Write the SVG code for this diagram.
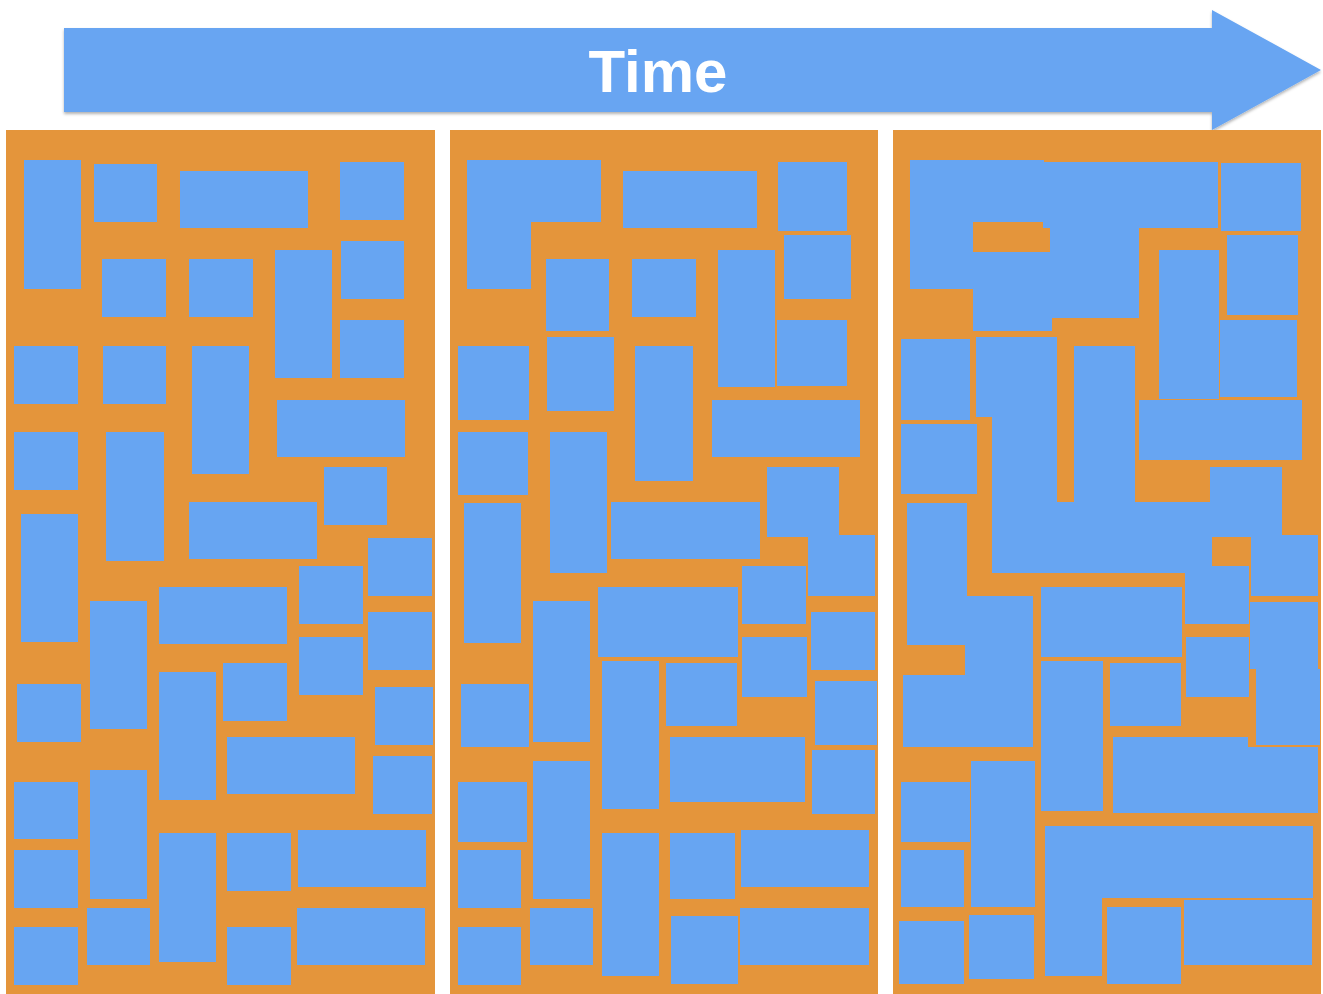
<svg xmlns="http://www.w3.org/2000/svg" width="1323" height="994" viewBox="0 0 1323 994">
<style>
.p{fill:#E4953B}
.b{fill:#67A5F2}
.t{font-family:"Liberation Sans",Arial,sans-serif;font-weight:bold;font-size:60px;fill:#FFFFFF}
</style>
<defs>
<filter id="sh" x="-5%" y="-20%" width="110%" height="140%">
<feDropShadow dx="0" dy="2" stdDeviation="1.5" flood-color="#000" flood-opacity="0.3"/>
</filter>
</defs>
<rect width="1323" height="994" fill="#FFFFFF"/>
<g id="time-arrow">
<polygon class="b" filter="url(#sh)" points="64,28 1212,28 1212,10 1321,70 1212,130 1212,112 64,112"/>
<text class="t" x="658" y="92" text-anchor="middle">Time</text>
</g>
<g id="panel1">
<rect class="p" x="6" y="130" width="429" height="864"/>
<rect class="b" x="24" y="160" width="57" height="129"/>
<rect class="b" x="94" y="164" width="63" height="58"/>
<rect class="b" x="180" y="171" width="128" height="57"/>
<rect class="b" x="340" y="162" width="64" height="58"/>
<rect class="b" x="102" y="259" width="64" height="58"/>
<rect class="b" x="189" y="259" width="64" height="58"/>
<rect class="b" x="275" y="250" width="57" height="128"/>
<rect class="b" x="341" y="241" width="63" height="58"/>
<rect class="b" x="340" y="320" width="64" height="58"/>
<rect class="b" x="14" y="346" width="64" height="58"/>
<rect class="b" x="103" y="346" width="63" height="58"/>
<rect class="b" x="192" y="346" width="57" height="128"/>
<rect class="b" x="277" y="400" width="128" height="57"/>
<rect class="b" x="14" y="432" width="64" height="58"/>
<rect class="b" x="106" y="432" width="58" height="129"/>
<rect class="b" x="189" y="502" width="128" height="57"/>
<rect class="b" x="324" y="467" width="63" height="58"/>
<rect class="b" x="21" y="514" width="57" height="128"/>
<rect class="b" x="368" y="538" width="64" height="58"/>
<rect class="b" x="90" y="601" width="57" height="128"/>
<rect class="b" x="159" y="587" width="128" height="57"/>
<rect class="b" x="299" y="566" width="64" height="58"/>
<rect class="b" x="368" y="612" width="64" height="58"/>
<rect class="b" x="299" y="637" width="64" height="58"/>
<rect class="b" x="159" y="672" width="57" height="128"/>
<rect class="b" x="223" y="663" width="64" height="58"/>
<rect class="b" x="17" y="684" width="64" height="58"/>
<rect class="b" x="375" y="687" width="58" height="58"/>
<rect class="b" x="227" y="737" width="128" height="57"/>
<rect class="b" x="373" y="756" width="59" height="58"/>
<rect class="b" x="14" y="782" width="64" height="57"/>
<rect class="b" x="90" y="770" width="57" height="129"/>
<rect class="b" x="159" y="833" width="57" height="129"/>
<rect class="b" x="227" y="833" width="64" height="58"/>
<rect class="b" x="298" y="830" width="128" height="57"/>
<rect class="b" x="14" y="850" width="64" height="58"/>
<rect class="b" x="87" y="908" width="63" height="57"/>
<rect class="b" x="14" y="927" width="64" height="58"/>
<rect class="b" x="227" y="927" width="64" height="58"/>
<rect class="b" x="297" y="908" width="128" height="57"/>
</g>
<g id="panel2">
<rect class="p" x="450" y="130" width="428" height="864"/>
<path class="b" d="M467,160 H601 V222 H531 V289 H467 Z"/>
<rect class="b" x="623" y="171" width="134" height="57"/>
<rect class="b" x="778" y="162" width="69" height="69"/>
<rect class="b" x="784" y="235" width="67" height="64"/>
<rect class="b" x="546" y="259" width="63" height="72"/>
<rect class="b" x="632" y="259" width="64" height="58"/>
<rect class="b" x="718" y="250" width="57" height="137"/>
<rect class="b" x="777" y="320" width="70" height="66"/>
<rect class="b" x="458" y="346" width="71" height="74"/>
<rect class="b" x="547" y="337" width="67" height="74"/>
<rect class="b" x="635" y="346" width="58" height="135"/>
<rect class="b" x="712" y="400" width="148" height="57"/>
<rect class="b" x="458" y="432" width="70" height="63"/>
<rect class="b" x="550" y="432" width="57" height="141"/>
<rect class="b" x="611" y="502" width="149" height="57"/>
<rect class="b" x="767" y="467" width="72" height="70"/>
<rect class="b" x="808" y="535" width="67" height="61"/>
<rect class="b" x="464" y="503" width="57" height="140"/>
<rect class="b" x="533" y="601" width="57" height="141"/>
<rect class="b" x="598" y="587" width="140" height="70"/>
<rect class="b" x="742" y="566" width="64" height="58"/>
<rect class="b" x="811" y="612" width="64" height="58"/>
<rect class="b" x="742" y="637" width="65" height="60"/>
<rect class="b" x="602" y="661" width="57" height="148"/>
<rect class="b" x="666" y="663" width="71" height="63"/>
<rect class="b" x="461" y="684" width="68" height="63"/>
<rect class="b" x="815" y="681" width="62" height="64"/>
<rect class="b" x="670" y="737" width="135" height="65"/>
<rect class="b" x="812" y="750" width="63" height="64"/>
<rect class="b" x="458" y="782" width="69" height="60"/>
<rect class="b" x="533" y="761" width="57" height="138"/>
<rect class="b" x="602" y="833" width="57" height="143"/>
<rect class="b" x="670" y="833" width="65" height="66"/>
<rect class="b" x="741" y="830" width="128" height="57"/>
<rect class="b" x="458" y="850" width="63" height="58"/>
<rect class="b" x="530" y="908" width="63" height="57"/>
<rect class="b" x="458" y="927" width="63" height="58"/>
<rect class="b" x="671" y="916" width="67" height="68"/>
<rect class="b" x="740" y="908" width="129" height="57"/>
</g>
<g id="panel3">
<rect class="p" x="893" y="130" width="428" height="864"/>
<rect class="b" x="910" y="160" width="63" height="129"/>
<rect class="b" x="973" y="160" width="71" height="62"/>
<rect class="b" x="1043" y="162" width="175" height="66"/>
<rect class="b" x="1050" y="228" width="89" height="24"/>
<rect class="b" x="973" y="252" width="166" height="66"/>
<rect class="b" x="973" y="318" width="79" height="13"/>
<rect class="b" x="1221" y="163" width="80" height="68"/>
<rect class="b" x="1227" y="235" width="71" height="80"/>
<rect class="b" x="1159" y="250" width="60" height="149"/>
<rect class="b" x="1220" y="320" width="77" height="77"/>
<rect class="b" x="1139" y="400" width="163" height="60"/>
<rect class="b" x="901" y="339" width="69" height="81"/>
<rect class="b" x="976" y="337" width="81" height="80"/>
<rect class="b" x="992" y="415" width="65" height="158"/>
<rect class="b" x="1074" y="346" width="61" height="156"/>
<rect class="b" x="901" y="424" width="76" height="70"/>
<rect class="b" x="1210" y="467" width="72" height="35"/>
<rect class="b" x="992" y="502" width="290" height="35"/>
<rect class="b" x="992" y="537" width="220" height="36"/>
<rect class="b" x="1251" y="535" width="67" height="61"/>
<rect class="b" x="1185" y="566" width="64" height="58"/>
<rect class="b" x="1250" y="602" width="68" height="67"/>
<rect class="b" x="1256" y="669" width="64" height="76"/>
<rect class="b" x="907" y="503" width="60" height="142"/>
<rect class="b" x="965" y="596" width="68" height="151"/>
<rect class="b" x="903" y="675" width="130" height="72"/>
<rect class="b" x="1041" y="587" width="141" height="70"/>
<rect class="b" x="1186" y="637" width="63" height="60"/>
<rect class="b" x="1041" y="661" width="62" height="150"/>
<rect class="b" x="1110" y="663" width="71" height="63"/>
<rect class="b" x="1113" y="737" width="135" height="76"/>
<rect class="b" x="1248" y="747" width="70" height="66"/>
<rect class="b" x="901" y="782" width="69" height="60"/>
<rect class="b" x="971" y="761" width="64" height="146"/>
<rect class="b" x="901" y="850" width="63" height="57"/>
<rect class="b" x="899" y="921" width="65" height="63"/>
<rect class="b" x="969" y="915" width="65" height="64"/>
<rect class="b" x="1045" y="826" width="57" height="150"/>
<rect class="b" x="1045" y="826" width="268" height="72"/>
<rect class="b" x="1107" y="907" width="74" height="77"/>
<rect class="b" x="1184" y="900" width="128" height="65"/>
</g>
</svg>
